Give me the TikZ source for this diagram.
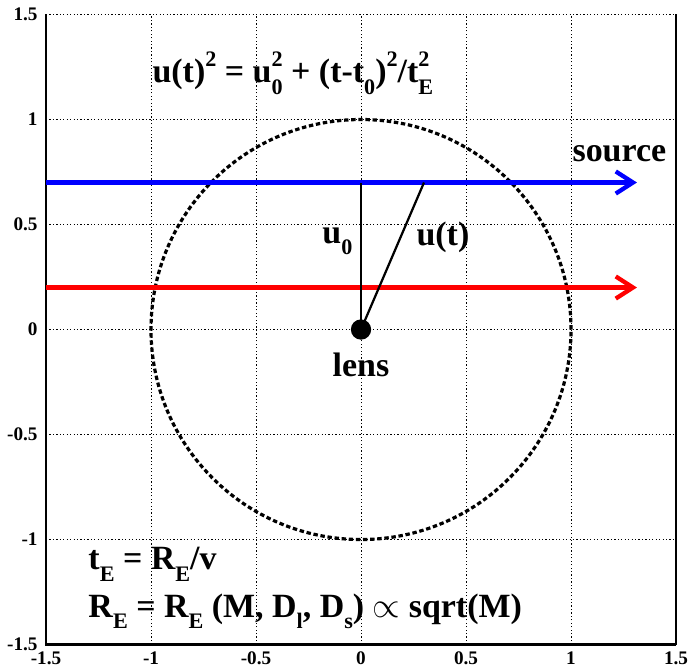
\documentclass[tikz,border=0pt]{standalone}
\usepackage{fontspec}
\setmainfont{Liberation Serif}
\usetikzlibrary{arrows.meta}
\newcommand{\idx}{\fontsize{9}{9}\selectfont}
\newcommand{\lo}[1]{\raisebox{-4.6pt}{\idx #1}}
\newcommand{\hi}[1]{\raisebox{6.8pt}{\idx #1}}
\newcommand{\hilo}[2]{\rlap{\hi{#1}}\lo{#2}}
\begin{document}
\begin{tikzpicture}[x=3cm,y=3cm,
    lbl/.style={font=\fontsize{13.8}{16}\selectfont\bfseries, inner sep=0pt},
    tick/.style={font=\fontsize{7.8}{8}\selectfont\bfseries, inner sep=0pt},
    track/.style={line width=1.75pt, -{Straight Barb[length=7pt,width=9pt]}},
    gridline/.style={line width=0.4pt, dash pattern=on 0.5pt off 0.9pt}]
    \useasboundingbox (-1.719,-1.621) rectangle (1.557,1.569);
    % Rejilla y marco
    \foreach \v in {-1,-0.5,0,0.5,1} {
        \draw[gridline] (\v,-1.5) -- (\v,1.5);
        \draw[gridline] (-1.5,\v) -- (1.5,\v);
    }
    \draw[gridline] (-1.5,1.5) -- (1.5,1.5);
    \draw[line width=0.6pt] (1.5,-1.5) -- (1.5,1.5);
    \draw[line width=1pt] (-1.5,1.5) -- (-1.5,-1.5) -- (1.5,-1.5);
    % Etiquetas de los ejes
    \foreach \v in {-1.5,-1,-0.5,0,0.5,1,1.5} {
        \node[tick, anchor=east] (ylab\v) at (-1.538,\v) {\v};
        \node[tick, anchor=north] (xlab\v) at (\v,-1.53) {\v};
    }
    % Radio de Einstein
    \draw[line width=1.3pt, dash pattern=on 1.8pt off 1.1pt] (0,0) circle (1);
    % Trayectorias de la fuente
    \coordinate (bstart) at (-1.5,0.7);
    \coordinate (bend) at (1.314,0.7);
    \coordinate (rstart) at (-1.5,0.2);
    \coordinate (rend) at (1.314,0.2);
    \draw[track, blue] (bstart) -- (bend);
    \draw[track, red] (rstart) -- (rend);
    % Lente y parametros de impacto
    \node[circle, fill, inner sep=0pt, minimum size=0.29cm] (lens) at (0,0) {};
    \coordinate (foot) at (0,0.7);
    \coordinate (now) at (0.3,0.7);
    \draw[line width=0.9pt] (lens.center) -- (foot);
    \draw[line width=0.9pt] (lens.center) -- (now);
    % Textos
    \node[lbl, anchor=base west] (eqn) at (-0.995,1.174)
        {u(t)\hi{2} = u\hilo{2}{0} + (t-t\lo{0})\hi{2}/t\hilo{2}{E}};
    \node[lbl, anchor=base west] (src) at (1.005,0.798) {source};
    \node[lbl, anchor=base west] (uzero) at (-0.186,0.41) {u\lo{0}};
    \node[lbl, anchor=base west] (ut) at (0.262,0.40) {u(t)};
    \node[lbl, anchor=base] (lenslab) at (0,-0.226) {lens};
    \node[lbl, anchor=base west] (tE) at (-1.3,-1.145) {t\lo{E} = R\lo{E}/v};
    \node[lbl, anchor=base west] (RE) at (-1.3,-1.369)
        {R\lo{E} = R\lo{E} (M, D\lo{l}, D\lo{s}) $\propto$ sqrt(M)};
\end{tikzpicture}
\end{document}
